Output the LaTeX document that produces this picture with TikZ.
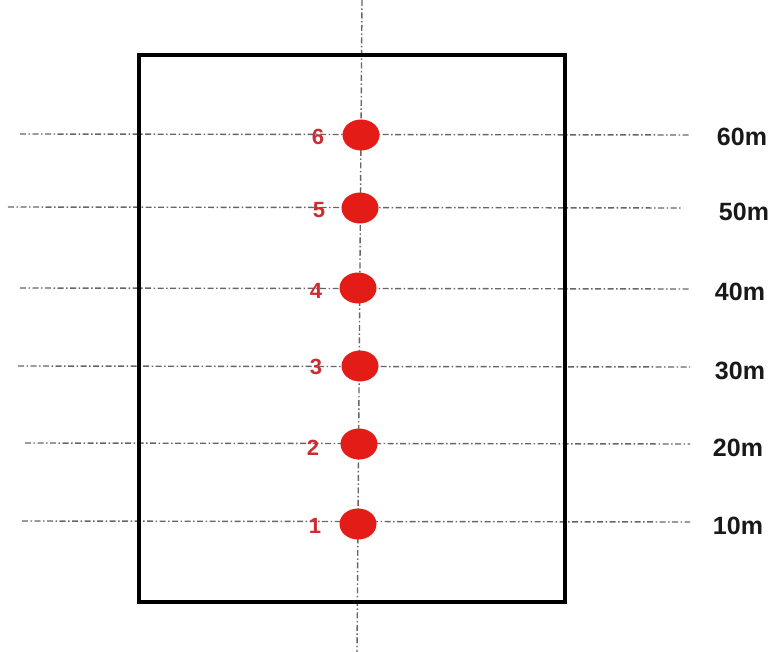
\documentclass[tikz,border=0pt]{standalone}
\usepackage{fontspec}
\setmainfont{Liberation Sans}
\usetikzlibrary{shapes.geometric}
\definecolor{dotred}{RGB}{228,28,24}
\definecolor{numred}{RGB}{205,45,50}
\begin{document}
\begin{tikzpicture}[x=1pt,y=-1pt,
  axisline/.style={draw=black!60,line width=1.4pt,dash pattern=on 6pt off 2.5pt on 1.5pt off 2.5pt},
  dotnode/.style={ellipse,fill=dotred,minimum width=37pt,minimum height=31pt,inner sep=0pt},
  numlabel/.style={text=numred,font=\fontsize{22}{24}\selectfont\bfseries,inner sep=0pt},
  distlabel/.style={text=black!90,font=\fontsize{25}{28}\selectfont\bfseries,inner sep=0pt}]
\useasboundingbox (0,0) rectangle (773,652);
% vertical centre line
\coordinate (vtop) at (362,0);
\coordinate (vbot) at (357,652);
\draw[axisline] (vtop) -- (vbot);
% horizontal lines
\coordinate (l6a) at (20,134); \coordinate (l6b) at (690,135);
\coordinate (l5a) at (8,207);  \coordinate (l5b) at (683,208);
\coordinate (l4a) at (20,288); \coordinate (l4b) at (690,289);
\coordinate (l3a) at (18,366); \coordinate (l3b) at (690,367);
\coordinate (l2a) at (25,443); \coordinate (l2b) at (690,444);
\coordinate (l1a) at (22,521); \coordinate (l1b) at (690,522);
\foreach \i in {1,...,6} {\draw[axisline] (l\i a) -- (l\i b);}
% frame
\draw[line width=4pt] (139,55) rectangle (565,602);
% dots
\node[dotnode] (d6) at (361,135) {};
\node[dotnode] (d5) at (360,208) {};
\node[dotnode] (d4) at (358,288) {};
\node[dotnode] (d3) at (360,366) {};
\node[dotnode] (d2) at (359,444) {};
\node[dotnode] (d1) at (358,524) {};
% numbers
\node[numlabel] (n6) at (318,137) {6};
\node[numlabel] (n5) at (319,210) {5};
\node[numlabel] (n4) at (316,291) {4};
\node[numlabel] (n3) at (316,367) {3};
\node[numlabel] (n2) at (313,448) {2};
\node[numlabel] (n1) at (315,526) {1};
% distances
\node[distlabel] (m6) at (742,137) {60m};
\node[distlabel] (m5) at (744,212) {50m};
\node[distlabel] (m4) at (740,292) {40m};
\node[distlabel] (m3) at (740,371) {30m};
\node[distlabel] (m2) at (738,448) {20m};
\node[distlabel] (m1) at (738,526) {10m};
\end{tikzpicture}
\end{document}
